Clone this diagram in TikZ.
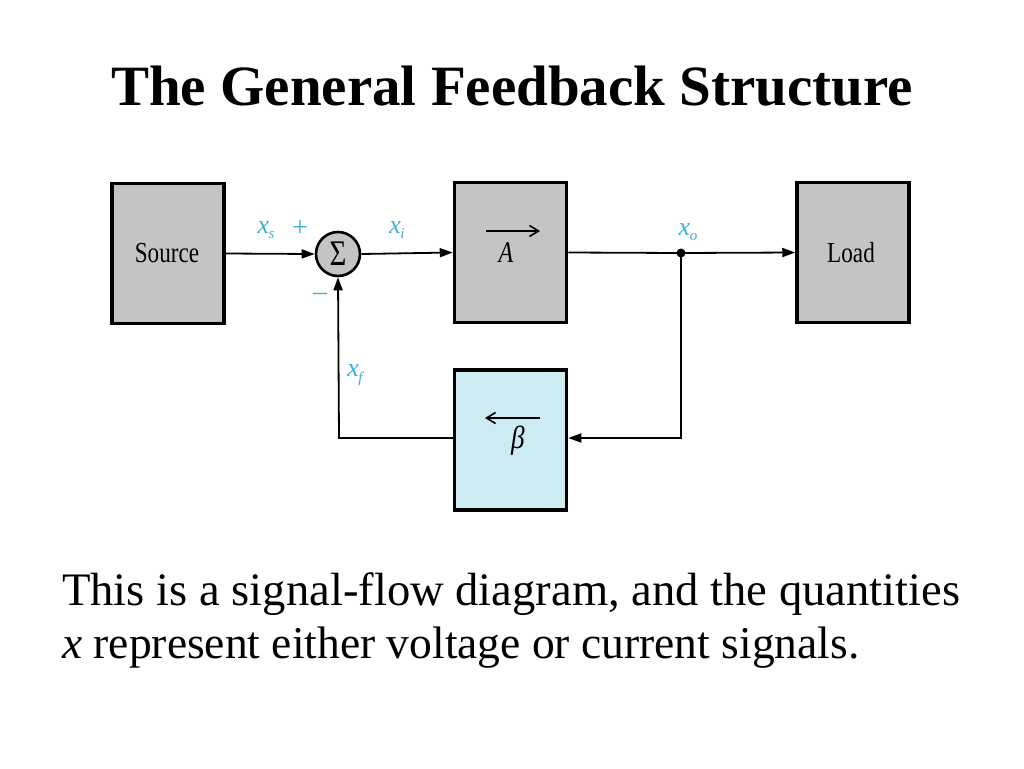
\documentclass[tikz,border=0pt]{standalone}
\usepackage{fontspec}
\setmainfont{Liberation Serif}
\usetikzlibrary{arrows.meta}
\definecolor{boxgray}{HTML}{C4C4C4}
\definecolor{betablue}{HTML}{CDEBF2}
\definecolor{lblcyan}{HTML}{3AAFD6}
\newcommand{\sgl}[2]{#1\kern-0.5pt\raisebox{-0.22em}{\fontsize{15}{16}\selectfont #2}}
\tikzset{
  blk/.style={draw=black, line width=3.5pt, minimum width=112pt, minimum height=140pt, inner sep=0pt},
  gblk/.style={blk, fill=boxgray},
  bblk/.style={blk, fill=betablue},
  sig/.style={line width=1.8pt, -{Triangle[length=13pt,width=9pt]}},
  wire/.style={line width=1.8pt},
  lbl/.style={text=lblcyan, font=\fontsize{26}{28}\selectfont\itshape, inner sep=0pt},
  btxt/.style={font=\fontsize{29}{32}\selectfont, inner sep=0pt},
}
\begin{document}
\begin{tikzpicture}[x=1pt,y=-1pt]
\useasboundingbox (0,0) rectangle (1024,768);
% title
\node[anchor=base, font=\fontsize{57}{64}\selectfont\bfseries, inner sep=0pt] (title) at (512,105) {The General Feedback Structure};
% blocks
\node[gblk] (src) at (168,253.5) {};
\node[btxt] (srct) at (167,253) {\scalebox{0.8}[1]{Source}};
\node[gblk] (amp) at (510.5,252.5) {};
\node[btxt, font=\fontsize{30}{32}\selectfont\itshape] (At) at (506,253) {\scalebox{0.8}[1]{A}};
\node[gblk] (load) at (853,252.5) {};
\node[btxt] (loadt) at (851,253) {\scalebox{0.8}[1]{Load}};
\node[bblk] (beta) at (510.5,440) {};
\node[btxt, font=\fontsize{32}{34}\selectfont\itshape] (bt) at (518,441) {\scalebox{0.85}[1]{β}};
% symbolic arrows inside A and beta
\coordinate (aa1) at (486,231);
\coordinate (aa2) at (540,231);
\draw[line width=1.6pt, -{Straight Barb[length=9pt,width=11pt]}] (aa1) -- (aa2);
\coordinate (ba1) at (540,418);
\coordinate (ba2) at (485,418);
\draw[line width=1.6pt, -{Straight Barb[length=9pt,width=11pt]}] (ba1) -- (ba2);
% summing junction
\node[circle, draw=black, line width=2.6pt, fill=boxgray, minimum size=44pt, inner sep=0pt,
      font=\fontsize{36}{38}\selectfont] (sum) at (338,254) {\raisebox{1pt}{\scalebox{0.8}[1]{Σ}}};
% junction dot
\coordinate (jo) at (681,253);
\fill (jo) circle (4.5pt);
% forward path
\draw[sig] (src.east) -- (sum.west);
\draw[sig] (sum.east) -- (amp.west);
\draw[wire] (amp.east) -- (jo);
\draw[sig] (jo) -- (load.west);
% feedback path
\coordinate (c1) at (681,438);
\coordinate (c2) at (339,438);
\draw[sig] (jo) -- (c1) -- (beta.east |- c1);
\draw[sig] (beta.west |- c2) -- (c2) -- (sum.south);
% labels
\node[lbl] (xs) at (266,230) {\sgl{x}{s}};
\node[lbl, font=\fontsize{28}{30}\selectfont] (plus) at (300,229) {+};
\node[lbl, font=\fontsize{28}{30}\selectfont] (minus) at (320,297) {\textendash};
\node[lbl] (xi) at (397,230) {\sgl{x}{i}};
\node[lbl] (xo) at (688,232) {\sgl{x}{o}};
\node[lbl] (xf) at (355,375) {\sgl{x}{f}};
% caption
\node[anchor=base west, inner sep=0pt, font=\fontsize{46.6}{52}\selectfont] (cap1) at (62,605)
  {This is a signal-flow diagram, and the quantities};
\node[anchor=base west, inner sep=0pt, font=\fontsize{45.5}{52}\selectfont] (cap2) at (62,658)
  {\textit{x} represent either voltage or current signals.};
\end{tikzpicture}
\end{document}
